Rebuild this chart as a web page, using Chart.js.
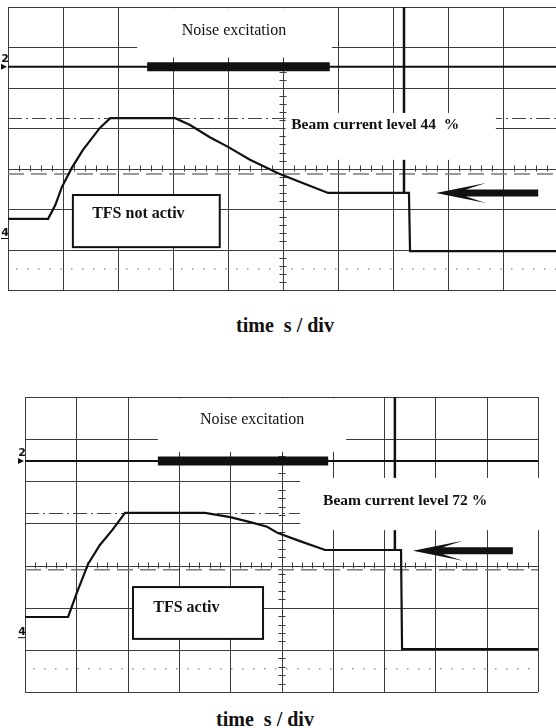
<!DOCTYPE html>
<html>
<head>
<meta charset="utf-8">
<script src="https://cdn.jsdelivr.net/npm/chart.js@4.4.1/dist/chart.umd.min.js"></script>
<style>
  html, body { margin: 0; padding: 0; background: #fff; overflow: hidden; }
  body { width: 556px; height: 728px; position: relative; }
  canvas { position: absolute; left: 0; }
  #scope1 { top: 0; }
  #scope2 { top: 390px; }
  .caption { position: absolute; font: bold 20px "Liberation Serif", "Times New Roman", serif; white-space: pre; color: #111; transform: translate(-50%, -50%); }
</style>
</head>
<body>
<canvas id="scope1" width="560" height="300"></canvas>
<canvas id="scope2" width="556" height="310"></canvas>
<div class="caption" style="left:285px; top:325px;">time  s / div</div>
<div class="caption" style="left:265px; top:719px;">time  s / div</div>
<script>
// time in divisions (10 div across), levels in divisions (7 div high)

// upper screen: TFS not active
const time1 = [0, 0.73, 0.86, 0.98, 1.16, 1.36, 1.67, 1.86, 3.04, 3.31, 3.67, 4.0, 4.4, 4.91, 5.31, 5.82, 7.29, 7.31, 10];
const beam1 = [1.76, 1.76, 2.10, 2.55, 3.02, 3.46, 4.01, 4.25, 4.25, 4.08, 3.78, 3.54, 3.22, 2.89, 2.67, 2.40, 2.40, 0.96, 0.96];
const ch2Level1 = 5.52;
const noiseOn1 = [2.53, 5.85];
const trigger1 = [7.2, 7, 2.40];
const refLevels1 = [4.25, 2.87, 0.52]; // dash-dot, dashed, dotted

// lower screen: TFS active
const time2 = [0, 0.84, 1.01, 1.23, 1.46, 1.70, 1.95, 3.51, 4.0, 4.39, 4.72, 4.93, 5.36, 5.85, 7.33, 7.35, 10];
const beam2 = [1.78, 1.78, 2.35, 3.04, 3.49, 3.84, 4.25, 4.25, 4.15, 4.03, 3.92, 3.77, 3.58, 3.37, 3.37, 1.02, 1.02];
const ch2Level2 = 5.48;
const noiseOn2 = [2.59, 5.91];
const trigger2 = [7.21, 7, 3.37];
const refLevels2 = [4.25, 2.90, 0.55];

const serif = '"Liberation Serif", "Times New Roman", serif';

const panels = [
  {
    id: 'scope1', time: time1, beam: beam1, ch2: ch2Level1, noise: noiseOn1, trigger: trigger1, refs: refLevels1,
    padding: {left: 8, top: 7, right: 2, bottom: 10},
    masks: [[2.35, 5.89, 5.75, 6.97], [5.05, 8.87, 3.22, 4.38]],
    box: [1.18, 3.85, 1.06, 2.35],
    texts: [
      {t: 'Noise excitation', x: 3.16, y: 6.41, font: '16px ' + serif},
      {t: 'Beam current level 44  %', x: 5.15, y: 4.08, font: 'bold 15.5px ' + serif},
      {t: 'TFS not activ', x: 1.53, y: 1.88, font: 'bold 16px ' + serif}
    ],
    arrow: [7.78, 9.64, 2.40],
    mark4: 1.41
  },
  {
    id: 'scope2', time: time2, beam: beam2, ch2: ch2Level2, noise: noiseOn2, trigger: trigger2, refs: refLevels2,
    padding: {left: 25, top: 7, right: 18, bottom: 8},
    masks: [[2.59, 6.26, 5.70, 6.97], [5.36, 10.05, 3.84, 5.08]],
    box: [2.105, 4.64, 1.26, 2.49],
    texts: [
      {t: 'Noise excitation', x: 3.41, y: 6.45, font: '16px ' + serif},
      {t: 'Beam current level 72 %', x: 5.81, y: 4.53, font: 'bold 15.5px ' + serif},
      {t: 'TFS activ', x: 2.50, y: 1.99, font: 'bold 16px ' + serif}
    ],
    arrow: [7.56, 9.51, 3.35],
    mark4: 1.42
  }
];

function scopePlugin(p) {
  return {
    id: 'scope',
    beforeDatasetsDraw(chart) {
      const {ctx, chartArea: a} = chart;
      const X = v => chart.scales.x.getPixelForValue(v);
      const Y = v => chart.scales.y.getPixelForValue(v);
      const seg = (x1, y1, x2, y2) => { ctx.beginPath(); ctx.moveTo(x1, y1); ctx.lineTo(x2, y2); ctx.stroke(); };
      ctx.save();
      ctx.strokeStyle = '#3a3a3a';
      ctx.lineWidth = 1;
      for (let i = 0; i <= 10; i++) {
        const px = Math.round(X(i)) + 0.5;
        seg(px, a.top, px, a.bottom);
      }
      for (let j = 0; j <= 7; j++) {
        const py = Math.round(Y(j)) + 0.5;
        seg(a.left, py, a.right, py);
      }
      // centre axes with minor ticks
      const cx = Math.round(X(5)) + 0.5, cy = Math.round(Y(3)) + 0.5;
      for (let t = 0; t <= 50; t++) {
        const px = Math.round(X(t / 5)) + 0.5;
        seg(px, cy - 4, px, cy + 2);
      }
      for (let t = 0; t <= 35; t++) {
        const py = Math.round(Y(t / 5)) + 0.5;
        seg(cx - 4, py, cx + 3, py);
      }
      // reference levels
      ctx.setLineDash([14, 4, 2, 4]);
      ctx.strokeStyle = '#444';
      seg(a.left, Math.round(Y(p.refs[0])) + 0.5, a.right, Math.round(Y(p.refs[0])) + 0.5);
      ctx.setLineDash([16, 7]);
      ctx.strokeStyle = '#7a7a7a';
      ctx.lineWidth = 1.5;
      seg(a.left, Y(p.refs[1]), a.right, Y(p.refs[1]));
      ctx.setLineDash([1.5, 9.5]);
      ctx.strokeStyle = '#999';
      seg(a.left + 8, Y(p.refs[2]), a.right, Y(p.refs[2]));
      ctx.restore();
    },
    afterDatasetsDraw(chart) {
      const {ctx, chartArea: a} = chart;
      const X = v => chart.scales.x.getPixelForValue(v);
      const Y = v => chart.scales.y.getPixelForValue(v);
      ctx.save();
      // blank areas behind the labels (they also hide the trigger line)
      ctx.fillStyle = '#fff';
      p.masks.forEach(m => {
        ctx.fillRect(X(m[0]), Y(m[3]), X(m[1]) - X(m[0]), Y(m[2]) - Y(m[3]));
      });
      // TFS box
      const b = p.box;
      ctx.fillRect(X(b[0]), Y(b[3]), X(b[1]) - X(b[0]), Y(b[2]) - Y(b[3]));
      ctx.strokeStyle = '#111';
      ctx.lineWidth = 2;
      ctx.strokeRect(X(b[0]), Y(b[3]), X(b[1]) - X(b[0]), Y(b[2]) - Y(b[3]));
      // labels
      ctx.fillStyle = '#111';
      ctx.textBaseline = 'middle';
      ctx.textAlign = 'left';
      p.texts.forEach(t => {
        ctx.font = t.font;
        ctx.fillText(t.t, X(t.x), Y(t.y));
      });
      // arrow
      const tip = X(p.arrow[0]), tail = X(p.arrow[1]), ay = Y(p.arrow[2]);
      ctx.beginPath();
      ctx.moveTo(tip, ay);
      ctx.lineTo(tip + 50, ay - 10);
      ctx.lineTo(tip + 30, ay - 3.5);
      ctx.lineTo(tail, ay - 3.5);
      ctx.lineTo(tail, ay + 3.5);
      ctx.lineTo(tip + 30, ay + 3.5);
      ctx.lineTo(tip + 50, ay + 10);
      ctx.closePath();
      ctx.fill();
      // channel markers
      ctx.font = 'bold 11px "DejaVu Sans", sans-serif';
      ctx.textAlign = 'center';
      const y2 = Y(p.ch2);
      ctx.fillText('2', a.left - 3, y2 - 8);
      ctx.beginPath();
      ctx.moveTo(a.left - 7, y2 - 3);
      ctx.lineTo(a.left - 1, y2);
      ctx.lineTo(a.left - 7, y2 + 3);
      ctx.closePath();
      ctx.fill();
      const y4 = Y(p.mark4);
      ctx.fillText('4', a.left - 3, y4);
      ctx.fillRect(a.left - 7, y4 + 5, 7, 1);
      ctx.restore();
    }
  };
}

panels.forEach(p => {
  const ctx = document.getElementById(p.id).getContext('2d');
  new Chart(ctx, {
    type: 'line',
    data: {
      datasets: [
        {data: p.time.map((t, i) => ({x: t, y: p.beam[i]})), borderColor: '#111', borderWidth: 2.2},
        {data: [{x: 0, y: p.ch2}, {x: 10, y: p.ch2}], borderColor: '#111', borderWidth: 2},
        {data: [{x: p.noise[0], y: p.ch2}, {x: p.noise[1], y: p.ch2}], borderColor: '#111', borderWidth: 9},
        {data: [{x: p.trigger[0], y: p.trigger[1]}, {x: p.trigger[0], y: p.trigger[2]}], borderColor: '#111', borderWidth: 2.5}
      ]
    },
    options: {
      responsive: false,
      animation: false,
      layout: {padding: p.padding},
      elements: {point: {radius: 0}, line: {tension: 0}},
      plugins: {legend: {display: false}, tooltip: {enabled: false}},
      scales: {
        x: {type: 'linear', min: 0, max: 10, display: false},
        y: {type: 'linear', min: 0, max: 7, display: false}
      }
    },
    plugins: [scopePlugin(p)]
  });
});
</script>
</body>
</html>
